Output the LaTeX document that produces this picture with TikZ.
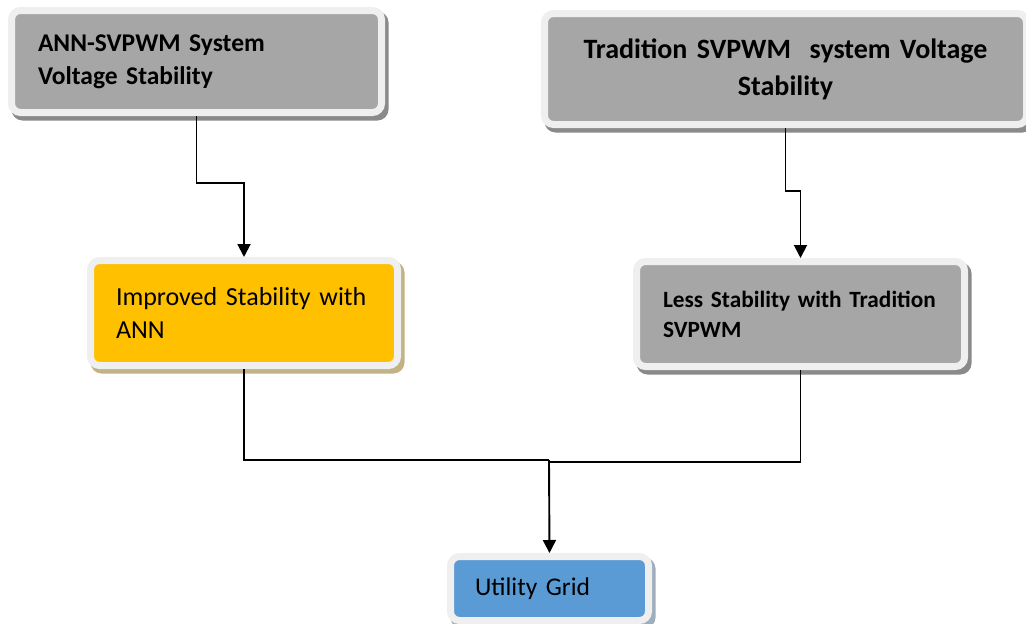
\documentclass[tikz,border=0pt]{standalone}
\usepackage{fontspec}
\setmainfont{Carlito}
\usetikzlibrary{arrows.meta,backgrounds}
\definecolor{boxgray}{HTML}{A6A6A6}
\definecolor{boxyellow}{HTML}{FFC000}
\definecolor{boxblue}{HTML}{5B9BD5}
\definecolor{boxedge}{HTML}{EFEFEF}
\definecolor{shgray}{HTML}{8A8A8A}
\definecolor{shyellow}{HTML}{C2B285}
\definecolor{shblue}{HTML}{9FAEBD}
\tikzset{
  box/.style={rectangle, rounded corners=9pt, draw=boxedge, line width=7pt, inner sep=0pt, text=black},
  conn/.style={line width=1.9pt, black},
  arr/.style={conn, -{Triangle[width=13pt,length=13pt]}},
}
\newcommand{\boxshadow}[2]{%
  \begin{pgfonlayer}{background}
  \fill[#2, rounded corners=11pt] ([shift={(3.5,4.5)}]#1.north west) rectangle ([shift={(3.5,4.5)}]#1.south east);
  \end{pgfonlayer}}
\begin{document}
\begin{tikzpicture}[x=1pt,y=-1pt]
\useasboundingbox (0,0) rectangle (1026,624);
% boxes
\node[box, fill=boxgray, minimum width=370pt, minimum height=102pt, text width=317pt, align=left,
      font=\fontsize{25.5}{33}\selectfont\bfseries] (b1) at (196.5,61.5)
  {ANN-SVPWM System\\Voltage Stability};
\node[box, fill=boxgray, minimum width=482pt, minimum height=111pt, text width=470pt, align=center,
      font=\fontsize{28}{37}\selectfont\bfseries] (b2) at (785.5,69)
  {Tradition SVPWM\ \ system Voltage\\Stability};
\node[box, fill=boxyellow, minimum width=307pt, minimum height=105pt, text width=256pt, align=left,
      font=\fontsize{26}{33}\selectfont] (b3) at (244,313)
  {Improved Stability with\\ANN};
\node[box, fill=boxgray, minimum width=328pt, minimum height=105pt, text width=275pt, align=left,
      font=\fontsize{23.3}{30}\selectfont\bfseries] (b4) at (800.5,314)
  {Less Stability with Tradition\\SVPWM\\[6pt]};
\node[box, fill=boxblue, minimum width=198pt, minimum height=64pt, text width=149pt, align=left,
      font=\fontsize{25.5}{30}\selectfont] (b5) at (549.5,588.5)
  {Utility Grid};
\boxshadow{b1}{shgray}
\boxshadow{b2}{shgray}
\boxshadow{b3}{shyellow}
\boxshadow{b4}{shgray}
\boxshadow{b5}{shblue}
% junction coordinates
\coordinate (j1) at (0,183);
\coordinate (j2) at (0,191);
\coordinate (j3) at (549,460);
\coordinate (j4) at (549,462);
\draw[arr] (b1.south) -- (b1.south |- j1) -| (b3.north);
\draw[arr] (b2.south) -- (b2.south |- j2) -| (b4.north);
\draw[conn] (b3.south) |- (j3);
\draw[conn] (b4.south) |- (j4);
\draw[arr] (j3) -- (b5.north);
\end{tikzpicture}
\end{document}
